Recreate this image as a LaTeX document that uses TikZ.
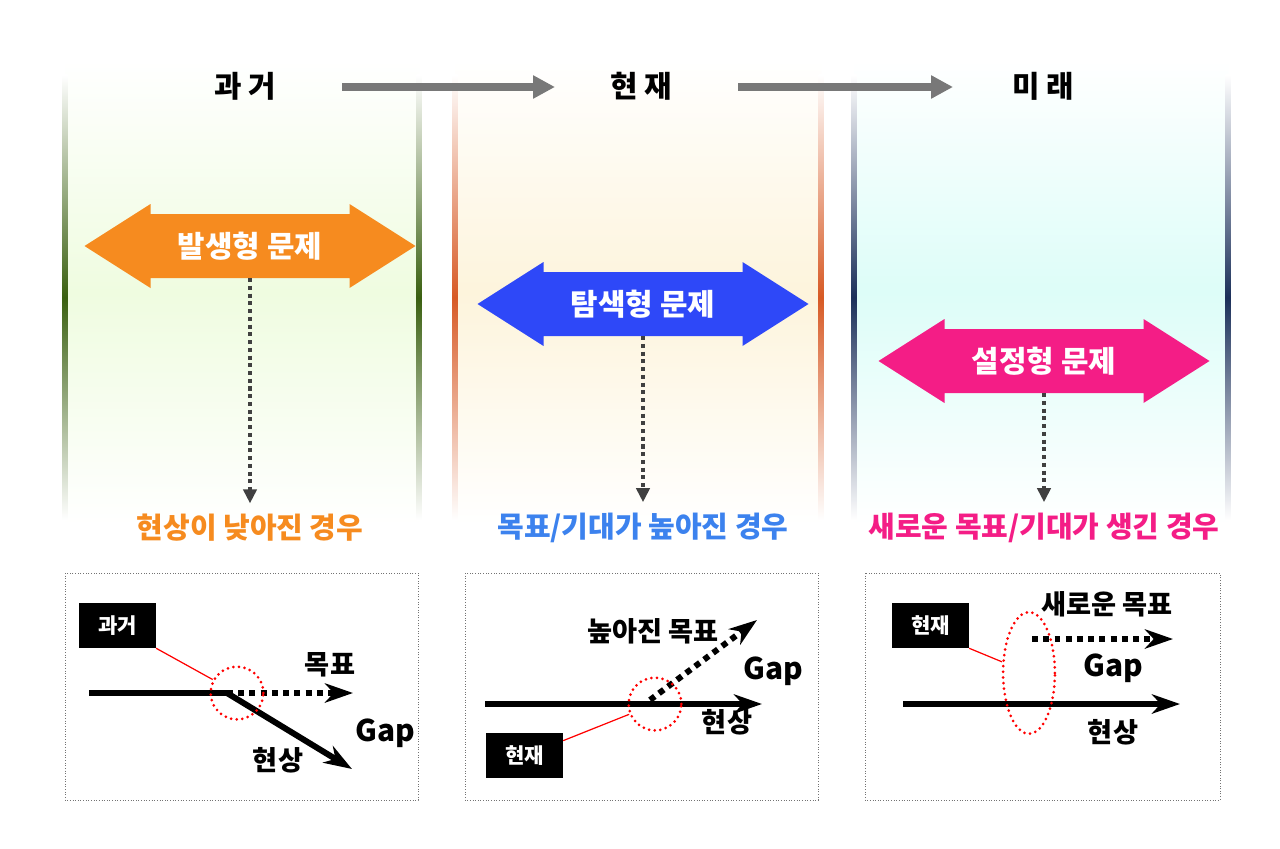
\documentclass[tikz,border=0pt]{standalone}
\usepackage{fontspec}
\setmainfont{Noto Sans CJK KR}
\usetikzlibrary{arrows.meta,calc,shapes.geometric}
\definecolor{occurC}{HTML}{F68B1F}
\definecolor{exploreC}{HTML}{2E48F8}
\definecolor{settingC}{HTML}{F41D86}
\definecolor{exploreT}{HTML}{3C82EE}
\definecolor{pastline}{HTML}{3A6010}
\definecolor{nowline}{HTML}{D75A25}
\definecolor{futline}{HTML}{1B305A}
\definecolor{pastbg}{HTML}{EFFCE0}
\definecolor{nowbg}{HTML}{FDF4DC}
\definecolor{futbg}{HTML}{DDFDF8}
% column band with shaded side rules
\newcommand{\timecol}[4]{%
  \shade[top color=white,bottom color=white,middle color=#3] (#1,60) rectangle (#2,525);
  \shade[top color=white,bottom color=white,middle color=#4] (#1-2.5,75) rectangle (#1+2.5,520);
  \shade[top color=white,bottom color=white,middle color=#4] (#2-2.5,75) rectangle (#2+2.5,520);}
% double headed problem arrow around a centre
\newcommand{\probarrow}[3]{%
  \fill[#1] (#2-99.5,#3-32) -- (#2-99.5,#3-42) -- (#2-165.5,#3) -- (#2-99.5,#3+42)
    -- (#2-99.5,#3+32) -- (#2+99.5,#3+32) -- (#2+99.5,#3+42) -- (#2+165.5,#3)
    -- (#2+99.5,#3-42) -- (#2+99.5,#3-32) -- cycle;}

\begin{document}
\begin{tikzpicture}[x=0.02cm,y=-0.02cm,
  head/.style={font=\bfseries\fontsize{17}{20}\selectfont,inner sep=0pt},
  probtext/.style={text=white,font=\bfseries\fontsize{17}{20}\selectfont,minimum width=112.8pt,minimum height=36.3pt,inner sep=0pt},
  caselabel/.style={font=\bfseries\fontsize{16.5}{19}\selectfont,inner sep=0pt},
  timearrow/.style={line width=4pt,draw=black!53,-{Triangle[length=12.5pt,width=12.5pt]}},
  dotarrow/.style={line width=2.3pt,draw=black!75,dash pattern=on 2.3pt off 2.1pt,-{Triangle[length=8pt,width=7.5pt]},shorten >=6pt},
  panel/.style={draw=black!55,densely dotted,line width=0.5pt},
  tag/.style={fill=black,text=white,font=\bfseries\fontsize{12}{14}\selectfont,minimum width=43.6pt,minimum height=25.5pt,inner sep=0pt},
  fact/.style={line width=3.4pt,-{Stealth[length=16pt,width=11pt,inset=5pt]}},
  goal/.style={fact,dash pattern=on 3.4pt off 3pt},
  ring/.style={circle,draw=red,line width=1.7pt,dash pattern=on 0pt off 3.2pt,line cap=round,minimum size=30pt,inner sep=0pt},
  leader/.style={draw=red,line width=0.7pt},
  word/.style={font=\bfseries\fontsize{15.5}{18}\selectfont,inner sep=0pt},
  gapword/.style={font=\bfseries\fontsize{17}{20}\selectfont,inner sep=0pt}
]
\useasboundingbox[fill=white] (0,0) rectangle (1280,848);

\timecol{65}{419}{pastbg}{pastline}
\timecol{455}{821}{nowbg}{nowline}
\timecol{854}{1228}{futbg}{futline}

% time line
\node[head] (past) at (245,86) {과 거};
\node[head] (now) at (641,86) {현 재};
\node[head] (future) at (1043,86) {미 래};
\draw[timearrow] ($(past)+(97,1)$) -- ($(now)+(-86,1)$);
\draw[timearrow] ($(now)+(97,1)$) -- ($(future)+(-90,1)$);

% problem types
\probarrow{occurC}{250}{246}
\probarrow{exploreC}{643}{304}
\probarrow{settingC}{1044}{361}
\node[probtext] (occur) at (250,246) {발생형 문제};
\node[probtext] (explore) at (643,304) {탐색형 문제};
\node[probtext] (setting) at (1044,361) {설정형 문제};

\node[caselabel,text=occurC] (occurcase) at (250,528) {현상이 낮아진 경우};
\node[caselabel,text=exploreT] (explorecase) at (643,528) {목표/기대가 높아진 경우};
\node[caselabel,text=settingC] (settingcase) at (1044,528) {새로운 목표/기대가 생긴 경우};
\draw[dotarrow] (occur.south) -- (occurcase.north);
\draw[dotarrow] (explore.south) -- (explorecase.north);
\draw[dotarrow] (setting.south) -- (settingcase.north);

% panel 1
\draw[panel] (65,573) rectangle (418,800);
\node[tag] (pasttag) at (117.5,625.5) {과거};
\coordinate (a1) at (89,693);
\coordinate (a1m) at (227,693);
\coordinate (a1goal) at (353,693);
\coordinate (a1fact) at (352,769);
\draw[line width=3.4pt] (a1) -- (a1m);
\draw[goal] (a1m) -- (a1goal);
\draw[fact] (a1m) -- (a1fact);
\node[ring] (ring1) at (237,693) {};
\draw[leader] (pasttag.south east) -- (ring1);
\node[word] (goal1) at (330,665) {목표};
\node[gapword] (gap1) at (385,733) {Gap};
\node[word] (fact1) at (278,760) {현상};

% panel 2
\draw[panel] (465,573) rectangle (818,800);
\node[tag] (nowtag) at (524.5,755.5) {현재};
\coordinate (b1) at (485,704);
\coordinate (b1end) at (762,704);
\coordinate (b1m) at (650,700);
\coordinate (b1goal) at (757,620);
\draw[fact] (b1) -- (b1end);
\draw[goal] (b1m) -- (b1goal);
\node[ring] (ring2) at (655,704) {};
\draw[leader] ([yshift=-4.5pt]nowtag.north east) -- (ring2);
\node[word] (goal2) at (653,631) {높아진 목표};
\node[gapword] (gap2) at (773,671) {Gap};
\node[word] (fact2) at (727,722) {현상};

% panel 3
\draw[panel] (865,573) rectangle (1220,800);
\node[tag] (futtag) at (930.5,625.5) {현재};
\coordinate (c1) at (903,704);
\coordinate (c1end) at (1180,704);
\coordinate (c1g) at (1032,639);
\coordinate (c1goal) at (1173,639);
\draw[fact] (c1) -- (c1end);
\draw[goal] (c1g) -- (c1goal);
\node[ring,ellipse,minimum width=29.5pt,minimum height=69.2pt] (ring3) at (1029,673) {};
\draw[leader] (futtag.south east) -- (ring3);
\node[word] (goal3) at (1107,604) {새로운 목표};
\node[gapword] (gap3) at (1113,668) {Gap};
\node[word] (fact3) at (1113,732) {현상};
\end{tikzpicture}
\end{document}
